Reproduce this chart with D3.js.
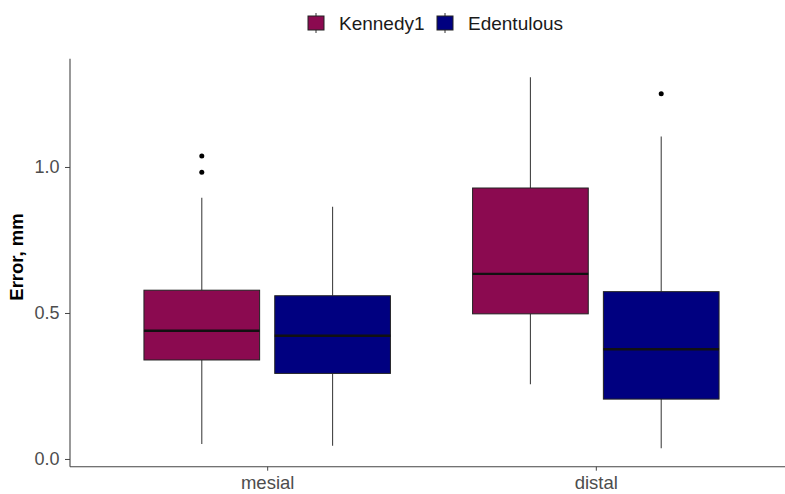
<!DOCTYPE html>
<html>
<head>
<meta charset="utf-8">
<script src="https://cdn.jsdelivr.net/npm/d3@7"></script>
<style>
  html, body { margin: 0; padding: 0; background: #fff; }
  svg { display: block; font-family: "Liberation Sans", Arial, sans-serif; }
</style>
</head>
<body>
<svg id="chart" width="785" height="494"></svg>
<script>
// Positions along the x axis and the two groups drawn at each
const sites = ["mesial", "distal"];
const groups = ["Kennedy1", "Edentulous"];
const groupColors = ["#8B0A50", "#000080"];

// Five-number summaries per site, in group order: [lowWhisker, q1, median, q3, highWhisker]
const mesialStats = [
  [0.051, 0.339, 0.439, 0.578, 0.895],
  [0.045, 0.293, 0.422, 0.559, 0.864]
];
const distalStats = [
  [0.256, 0.497, 0.634, 0.928, 1.307],
  [0.037, 0.205, 0.376, 0.573, 1.104]
];
// Points beyond the whiskers
const mesialOutliers = [[1.038, 0.982], []];
const distalOutliers = [[], [1.251]];

const yTicks = [0.0, 0.5, 1.0];

const statsBySite = { mesial: mesialStats, distal: distalStats };
const outliersBySite = { mesial: mesialOutliers, distal: distalOutliers };

const svg = d3.select("#chart");
const panel = { left: 70, right: 793 };

// y range with a 5% pad either side of the data span
const allVals = [];
sites.forEach(s => {
  statsBySite[s].forEach(st => allVals.push(...st));
  outliersBySite[s].forEach(o => allVals.push(...o));
});
const yMin = d3.min(allVals), yMax = d3.max(allVals);
const pad = (yMax - yMin) * 0.05;
const y = d3.scaleLinear().domain([yMin - pad, yMax + pad]).range([466.7, 58.8]);

// discrete x: categories at 1..n, with 0.6 of a step of padding on each side
const x = d3.scaleLinear().domain([0.4, sites.length + 0.6]).range([panel.left, panel.right]);
const boxWidth = 0.352;   // in category units
const dodgeOffset = 0.199; // centre offset of each box from the category centre

const plot = svg.append("g");

sites.forEach((site, i) => {
  statsBySite[site].forEach((st, g) => {
    const c = x(i + 1 + (g === 0 ? -dodgeOffset : dodgeOffset));
    const half = (x(boxWidth) - x(0)) / 2;
    const [lo, q1, med, q3, hi] = st;
    const gEl = plot.append("g");
    // whiskers
    gEl.append("line").attr("x1", c).attr("x2", c).attr("y1", y(q3)).attr("y2", y(hi))
      .attr("stroke", "#444").attr("stroke-width", 1.1);
    gEl.append("line").attr("x1", c).attr("x2", c).attr("y1", y(q1)).attr("y2", y(lo))
      .attr("stroke", "#444").attr("stroke-width", 1.1);
    // box
    gEl.append("rect")
      .attr("x", c - half).attr("width", half * 2)
      .attr("y", y(q3)).attr("height", y(q1) - y(q3))
      .attr("fill", groupColors[g])
      .attr("stroke", "#222").attr("stroke-width", 1);
    // median
    gEl.append("line").attr("x1", c - half).attr("x2", c + half)
      .attr("y1", y(med)).attr("y2", y(med))
      .attr("stroke", "#111").attr("stroke-width", 2.4);
    // outliers
    outliersBySite[site][g].forEach(v => {
      gEl.append("circle").attr("cx", c).attr("cy", y(v)).attr("r", 2.5).attr("fill", "#000");
    });
  });
});

// y axis
const yAxis = svg.append("g").attr("transform", `translate(${panel.left},0)`)
  .call(d3.axisLeft(y).tickValues(yTicks).tickFormat(d3.format(".1f")).tickSize(5).tickSizeOuter(0));
yAxis.select(".domain").remove();
yAxis.append("line").attr("x1", 0).attr("x2", 0).attr("y1", 58.8).attr("y2", 466.7)
  .attr("stroke", "#444").attr("stroke-width", 1.1);
yAxis.selectAll(".tick line").attr("stroke", "#444");
yAxis.selectAll(".tick text").attr("fill", "#4d4d4d").attr("font-size", 18)
  .attr("font-family", "Liberation Sans, Arial, sans-serif").attr("x", -10.5);

// x axis
const xAxis = svg.append("g").attr("transform", `translate(0,466.7)`)
  .call(d3.axisBottom(x).tickValues(sites.map((s, i) => i + 1))
    .tickFormat((d) => sites[d - 1]).tickSize(4).tickSizeOuter(0));
xAxis.select(".domain").remove();
xAxis.append("line").attr("x1", panel.left).attr("x2", 785).attr("y1", 0).attr("y2", 0)
  .attr("stroke", "#444").attr("stroke-width", 1.1);
xAxis.selectAll(".tick line").attr("stroke", "#444");
xAxis.selectAll(".tick text").attr("fill", "#4d4d4d").attr("font-size", 18.5)
  .attr("font-family", "Liberation Sans, Arial, sans-serif").attr("y", 9.5);

// y axis title
svg.append("text")
  .attr("transform", "translate(23.3,257) rotate(-90)")
  .attr("text-anchor", "middle")
  .attr("font-size", 18.5).attr("font-weight", "bold").attr("fill", "#000")
  .text("Error, mm");

// legend
const legendItems = [
  { label: groups[0], color: groupColors[0], keyX: 308, textX: 339 },
  { label: groups[1], color: groupColors[1], keyX: 437, textX: 468 }
];
const legend = svg.append("g");
legendItems.forEach(it => {
  legend.append("line").attr("x1", it.keyX + 8).attr("x2", it.keyX + 8)
    .attr("y1", 13).attr("y2", 33).attr("stroke", "#333").attr("stroke-width", 1);
  legend.append("rect").attr("x", it.keyX).attr("y", 16).attr("width", 16).attr("height", 14)
    .attr("fill", it.color).attr("stroke", "#222").attr("stroke-width", 1);
  legend.append("text").attr("x", it.textX).attr("y", 29.5)
    .attr("font-size", 19).attr("fill", "#1a1a1a").text(it.label);
});
</script>
</body>
</html>
